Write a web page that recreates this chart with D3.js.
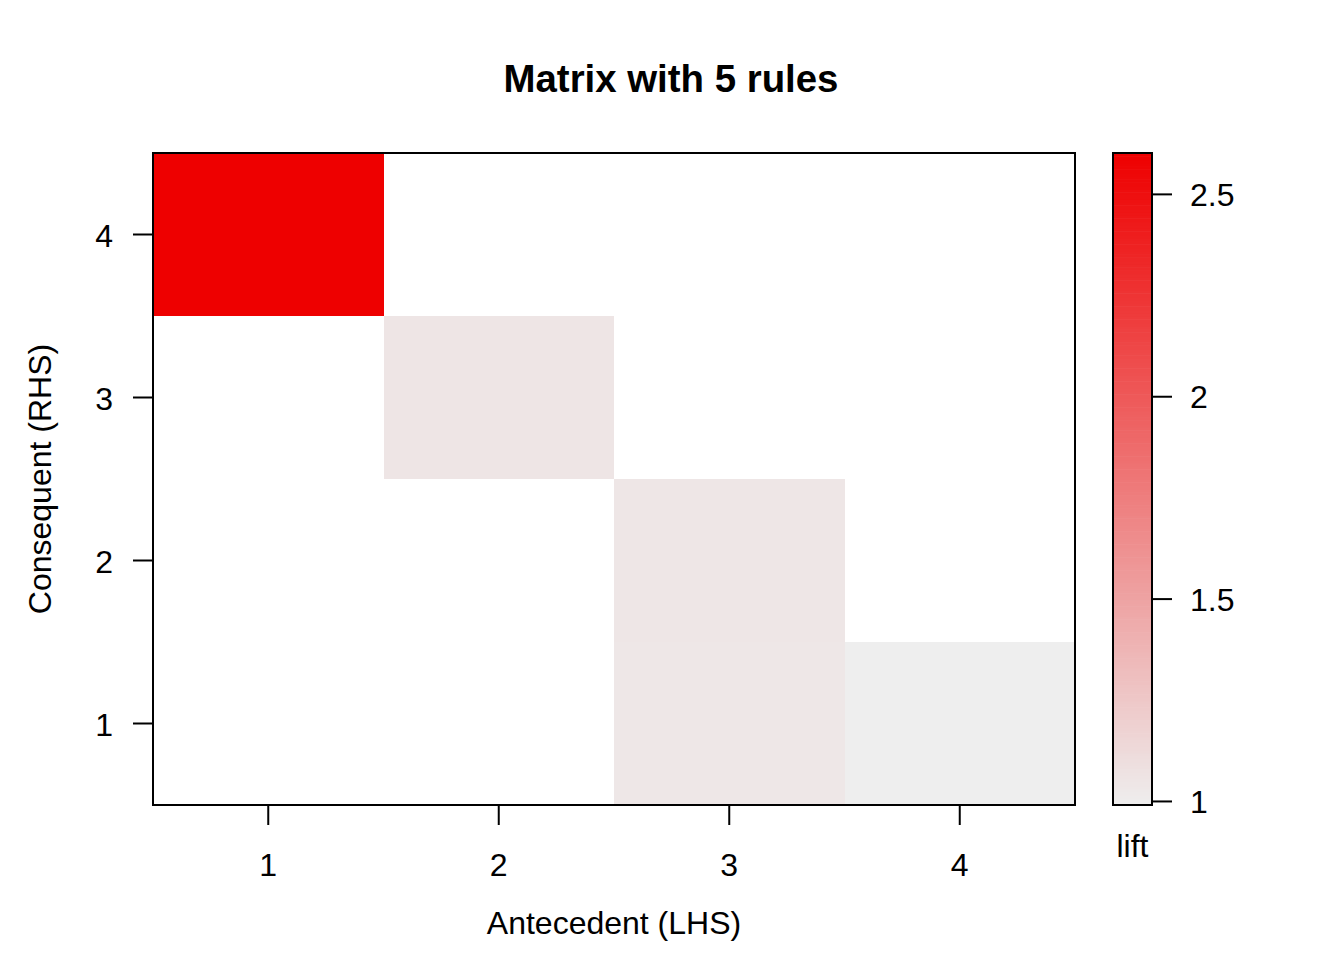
<!DOCTYPE html>
<html>
<head>
<meta charset="utf-8">
<script src="https://cdn.jsdelivr.net/npm/d3@7/dist/d3.min.js"></script>
<style>
  html, body { margin: 0; padding: 0; background: #ffffff; }
  svg text { font-family: "Liberation Sans", Arial, sans-serif; fill: #000; }
</style>
</head>
<body>
<svg id="chart" width="1344" height="960"></svg>
<script>
// ---- data ----
const lhsIds = [1, 2, 3, 3, 4];
const rhsIds = [4, 3, 2, 1, 1];
const liftValues = [2.601, 1.05, 1.045, 1.035, 0.99];
const xTickLabels = ["1", "2", "3", "4"];
const yTickLabels = ["1", "2", "3", "4"];
const legendTicks = [1, 1.5, 2, 2.5];
const titleText = "Matrix with 5 rules";
const xTitle = "Antecedent (LHS)";
const yTitle = "Consequent (RHS)";
const legendTitle = "lift";

const svg = d3.select("#chart");
const plot = { left: 153, right: 1075, top: 153, bottom: 805 };

const x = d3.scaleBand().domain(xTickLabels).range([plot.left, plot.right]).padding(0);
const y = d3.scaleBand().domain(yTickLabels).range([plot.bottom, plot.top]).padding(0);

const liftMin = d3.min(liftValues), liftMax = d3.max(liftValues);
const interp = d3.interpolateRgb("#EEEEEE", "#EE0000");
const color = v => interp((v - liftMin) / (liftMax - liftMin));

// background
svg.append("rect").attr("x", 0).attr("y", 0).attr("width", 1344).attr("height", 960).attr("fill", "#fff");

// cells
const rules = lhsIds.map((l, i) => ({ lhs: String(l), rhs: String(rhsIds[i]), lift: liftValues[i] }));
svg.append("g").selectAll("rect").data(rules).join("rect")
  .attr("x", d => x(d.lhs))
  .attr("y", d => y(d.rhs))
  .attr("width", x.bandwidth())
  .attr("height", y.bandwidth())
  .attr("fill", d => color(d.lift))
  .attr("shape-rendering", "crispEdges");

// frame
svg.append("rect")
  .attr("x", plot.left).attr("y", plot.top)
  .attr("width", plot.right - plot.left).attr("height", plot.bottom - plot.top)
  .attr("fill", "none").attr("stroke", "#000").attr("stroke-width", 2);

// x axis
const xAxis = svg.append("g").attr("transform", `translate(0,${plot.bottom})`)
  .call(d3.axisBottom(x).tickSize(20).tickPadding(28));
xAxis.select(".domain").remove();
xAxis.selectAll(".tick line").attr("stroke", "#000").attr("stroke-width", 2);
xAxis.selectAll(".tick text").attr("font-size", 32).attr("font-family", "Liberation Sans, Arial, sans-serif");

// y axis
const yAxis = svg.append("g").attr("transform", `translate(${plot.left},0)`)
  .call(d3.axisLeft(y).tickSize(20).tickPadding(20));
yAxis.select(".domain").remove();
yAxis.selectAll(".tick line").attr("stroke", "#000").attr("stroke-width", 2);
yAxis.selectAll(".tick text").attr("font-size", 32).attr("dy", "0.38em")
  .attr("font-family", "Liberation Sans, Arial, sans-serif");

// titles
svg.append("text").attr("x", 671).attr("y", 92).attr("text-anchor", "middle")
  .attr("font-size", 38.4).attr("font-weight", "bold").text(titleText);
svg.append("text").attr("x", (plot.left + plot.right) / 2).attr("y", 934).attr("text-anchor", "middle")
  .attr("font-size", 32).text(xTitle);
svg.append("text").attr("transform", `translate(51,${(plot.top + plot.bottom) / 2}) rotate(-90)`)
  .attr("text-anchor", "middle").attr("font-size", 32).text(yTitle);

// legend colour bar
const leg = { left: 1113, right: 1152, top: 153, bottom: 805 };
const ly = d3.scaleLinear().domain([liftMin, liftMax]).range([leg.bottom, leg.top]);
const nSteps = 200;
const steps = d3.range(nSteps).map(i => liftMin + (liftMax - liftMin) * (i + 0.5) / nSteps);
const stepH = (leg.bottom - leg.top) / nSteps;
svg.append("g").selectAll("rect").data(steps).join("rect")
  .attr("x", leg.left)
  .attr("y", d => ly(d) - stepH / 2)
  .attr("width", leg.right - leg.left)
  .attr("height", stepH + 0.6)
  .attr("fill", d => color(d));
svg.append("rect")
  .attr("x", leg.left).attr("y", leg.top)
  .attr("width", leg.right - leg.left).attr("height", leg.bottom - leg.top)
  .attr("fill", "none").attr("stroke", "#000").attr("stroke-width", 2);

const lAxis = svg.append("g").attr("transform", `translate(${leg.right},0)`)
  .call(d3.axisRight(ly).tickValues(legendTicks).tickSize(20).tickPadding(18).tickFormat(d3.format("")));
lAxis.select(".domain").remove();
lAxis.selectAll(".tick line").attr("stroke", "#000").attr("stroke-width", 2);
lAxis.selectAll(".tick text").attr("font-size", 32).attr("dy", "0.36em")
  .attr("font-family", "Liberation Sans, Arial, sans-serif");

svg.append("text").attr("x", (leg.left + leg.right) / 2).attr("y", 857).attr("text-anchor", "middle")
  .attr("font-size", 32).text(legendTitle);
</script>
</body>
</html>
